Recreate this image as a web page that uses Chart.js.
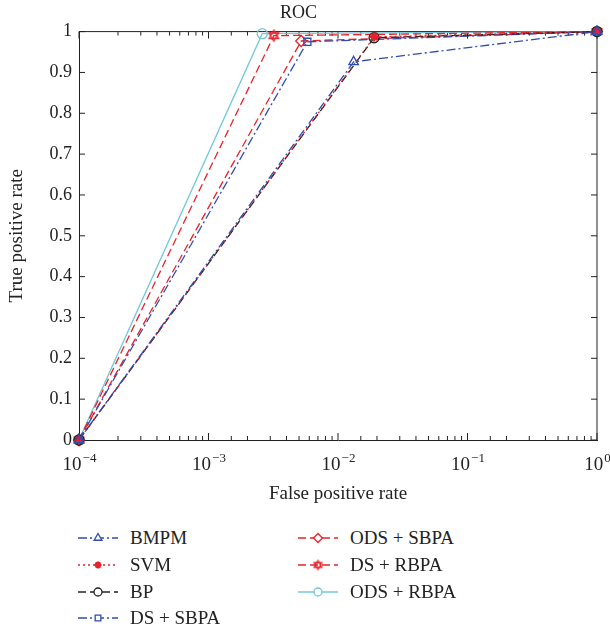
<!DOCTYPE html>
<html>
<head>
<meta charset="utf-8">
<script src="https://cdn.jsdelivr.net/npm/chart.js@4/dist/chart.umd.min.js"></script>
<style>
  html, body { margin: 0; padding: 0; background: #fff; }
  #wrap { position: relative; width: 610px; height: 633px; }
  #box { position: absolute; left: 0; top: 0; width: 610px; height: 512px; }
  .item { position: absolute; height: 26px; display: flex; align-items: center;
          font-family: "Liberation Serif", "DejaVu Serif", serif; font-size: 19px; color: #222; white-space: nowrap; }
  .item canvas { margin-right: 12px; }
</style>
</head>
<body>
<div id="wrap">
  <div id="box"><canvas id="chart"></canvas></div>
  <div id="legend"></div>
</div>
<script>
const seriesNames = ['BMPM', 'SVM', 'BP', 'DS + SBPA', 'ODS + SBPA', 'DS + RBPA', 'ODS + RBPA'];
// false positive rate / true positive rate
const bmpmX = [1e-4, 0.0132, 1];    const bmpmY = [0, 0.926, 1];
const svmX = [1e-4, 0.0190, 1];     const svmY = [0, 0.987, 1];
const bpX = [1e-4, 0.0190, 1];      const bpY = [0, 0.985, 1];
const dsSbpaX = [1e-4, 0.0058, 1];  const dsSbpaY = [0, 0.975, 1];
const odsSbpaX = [1e-4, 0.0052, 1]; const odsSbpaY = [0, 0.977, 1];
const dsRbpaX = [1e-4, 0.0032, 1];  const dsRbpaY = [0, 0.990, 1];
const odsRbpaX = [1e-4, 0.0026, 1]; const odsRbpaY = [0, 0.995, 1];
const xTickPowers = [-4, -3, -2, -1, 0];
const xTickExp = ['−4', '−3', '−2', '−1', '0'];
const yTicks = [0, 0.1, 0.2, 0.3, 0.4, 0.5, 0.6, 0.7, 0.8, 0.9, 1];

const BLUE = '#2f4cb0', RED = '#e8222b', BLACK = '#222', CYAN = '#70c8d8';
const FONT = '"Liberation Serif", "DejaVu Serif", serif';

// hexagram marker (no built-in one in Chart.js)
function makeHexagram(r) {
    const cv = document.createElement('canvas');
    const s = Math.ceil(r * 2 + 4);
    cv.width = s; cv.height = s;
    const c = cv.getContext('2d');
    c.strokeStyle = RED; c.lineWidth = 1.3;
    [0, Math.PI].forEach(off => {
        c.beginPath();
        for (let i = 0; i < 3; i++) {
            const a = off - Math.PI / 2 + i * 2 * Math.PI / 3;
            const px = s / 2 + r * Math.cos(a), py = s / 2 + r * Math.sin(a);
            i ? c.lineTo(px, py) : c.moveTo(px, py);
        }
        c.closePath();
        c.stroke();
    });
    return cv;
}
const hexa = makeHexagram(5.5);
const hexaSmall = makeHexagram(4.5);

function pts(xs, ys) { return xs.map((v, i) => ({ x: v, y: ys[i] })); }

const styles = [
    { color: BLUE, dash: [9, 3, 2, 3], point: 'triangle', radius: 5.5, fill: 'transparent' },
    { color: RED, dash: [2, 3], point: 'star', radius: 4.5, fill: RED, bw: 2.2 },
    { color: BLACK, dash: [8, 4], point: 'circle', radius: 5, fill: 'transparent' },
    { color: BLUE, dash: [9, 3, 2, 3], point: 'rect', radius: 5, fill: 'transparent' },
    { color: RED, dash: [8, 4], point: 'rectRot', radius: 5.5, fill: 'transparent' },
    { color: RED, dash: [8, 4], point: hexa, radius: 6, fill: 'transparent' },
    { color: CYAN, dash: [], point: 'circle', radius: 5, fill: 'transparent' }
];
const xs = [bmpmX, svmX, bpX, dsSbpaX, odsSbpaX, dsRbpaX, odsRbpaX];
const ys = [bmpmY, svmY, bpY, dsSbpaY, odsSbpaY, dsRbpaY, odsRbpaY];

const datasets = seriesNames.map((name, i) => ({
    label: name,
    data: pts(xs[i], ys[i]),
    borderColor: styles[i].color,
    borderWidth: 1.3,
    borderDash: styles[i].dash,
    pointStyle: styles[i].point,
    pointRadius: styles[i].radius,
    pointBorderColor: styles[i].color,
    pointBackgroundColor: styles[i].fill,
    pointBorderWidth: styles[i].bw || 1.3,
    tension: 0,
    clip: false
}));

const frameTicks = {
    id: 'frameTicks',
    beforeDatasetsDraw(chart) {
        const { ctx, chartArea: a, scales: { x, y } } = chart;
        ctx.save();
        ctx.strokeStyle = BLACK;
        ctx.lineWidth = 1;
        ctx.beginPath();
        ctx.moveTo(a.left, a.top); ctx.lineTo(a.right, a.top); ctx.lineTo(a.right, a.bottom);
        x.ticks.forEach(t => {
            const px = x.getPixelForValue(t.value);
            const lg = Math.log10(t.value);
            const len = Math.abs(lg - Math.round(lg)) < 1e-6 ? 7 : 4;
            ctx.moveTo(px, a.bottom); ctx.lineTo(px, a.bottom - len);
            ctx.moveTo(px, a.top); ctx.lineTo(px, a.top + len);
        });
        y.ticks.forEach(t => {
            const py = y.getPixelForValue(t.value);
            ctx.moveTo(a.left, py); ctx.lineTo(a.left + 6, py);
            ctx.moveTo(a.right, py); ctx.lineTo(a.right - 6, py);
        });
        ctx.stroke();
        ctx.restore();
    },
    afterDraw(chart) {
        // x tick labels as 10 with a raised exponent
        const { ctx, chartArea: a, scales: { x } } = chart;
        ctx.save();
        ctx.fillStyle = BLACK;
        ctx.textBaseline = 'alphabetic';
        xTickPowers.forEach((p, k) => {
            const px = x.getPixelForValue(Math.pow(10, p));
            ctx.font = '19px ' + FONT;
            const wBase = ctx.measureText('10').width;
            ctx.font = '13px ' + FONT;
            const wExp = ctx.measureText(xTickExp[k]).width;
            const left = px - (wBase + wExp) / 2;
            const base = a.bottom + 30;
            ctx.font = '19px ' + FONT;
            ctx.fillText('10', left, base);
            ctx.font = '13px ' + FONT;
            ctx.fillText(xTickExp[k], left + wBase + 1, base - 8);
        });
        ctx.restore();
    }
};

new Chart(document.getElementById('chart'), {
    type: 'line',
    data: { datasets },
    options: {
        responsive: true,
        maintainAspectRatio: false,
        animation: false,
        events: [],
        layout: { padding: { left: 0, right: 13, top: 0, bottom: 0 } },
        plugins: {
            legend: { display: false },
            tooltip: { enabled: false },
            title: {
                display: true, text: 'ROC', color: BLACK,
                font: { family: FONT, size: 18, weight: 'normal' },
                padding: { top: 2, bottom: 8 }
            }
        },
        scales: {
            x: {
                type: 'logarithmic', min: 1e-4, max: 1,
                grid: { display: false, drawTicks: false },
                border: { color: BLACK, width: 1 },
                ticks: { display: false, autoSkip: false },
                title: { display: true, text: 'False positive rate', color: BLACK,
                         font: { family: FONT, size: 19 }, padding: { top: 0, bottom: 7 } },
                afterFit: s => { s.height = 72; s.paddingLeft = 0; s.paddingRight = 0; }
            },
            y: {
                min: 0, max: 1,
                afterBuildTicks: s => { s.ticks = yTicks.map(v => ({ value: v })); },
                grid: { display: false, drawTicks: false },
                border: { color: BLACK, width: 1 },
                ticks: {
                    color: BLACK, font: { family: FONT, size: 18 }, padding: 7,
                    callback: v => String(Number(v.toFixed(1)))
                },
                title: { display: true, text: 'True positive rate', color: BLACK,
                         font: { family: FONT, size: 19 }, padding: { top: 6, bottom: 0 } },
                afterFit: s => { s.width = 79; }
            }
        }
    },
    plugins: [frameTicks]
});

// legend: two columns, line sample with marker like the original
const legendCols = [[0, 1, 2, 3], [4, 5, 6]];
const colLeft = [78, 298];
const rowTop = [525, 552, 579, 605];
const legendEl = document.getElementById('legend');
const drawPoint = Chart.helpers && Chart.helpers.drawPoint;
legendCols.forEach((col, c) => col.forEach((i, r) => {
    const st = styles[i];
    const div = document.createElement('div');
    div.className = 'item';
    div.style.left = colLeft[c] + 'px';
    div.style.top = rowTop[r] + 'px';
    const cv = document.createElement('canvas');
    cv.width = 40; cv.height = 20;
    const g = cv.getContext('2d');
    g.strokeStyle = st.color;
    g.lineWidth = 1.3;
    g.setLineDash(st.dash);
    g.beginPath(); g.moveTo(0, 10); g.lineTo(40, 10); g.stroke();
    g.setLineDash([]);
    if (drawPoint) {
        g.fillStyle = st.fill === 'transparent' ? '#fff' : st.fill;
        g.lineWidth = st.bw || 1.3;
        const ps = st.point === hexa ? hexaSmall : st.point;
        drawPoint(g, { pointStyle: ps, radius: st.radius - 1, rotation: 0, borderWidth: st.bw || 1.3 }, 20, 10);
    }
    div.appendChild(cv);
    const span = document.createElement('span');
    span.textContent = seriesNames[i];
    div.appendChild(span);
    legendEl.appendChild(div);
}));
</script>
</body>
</html>
